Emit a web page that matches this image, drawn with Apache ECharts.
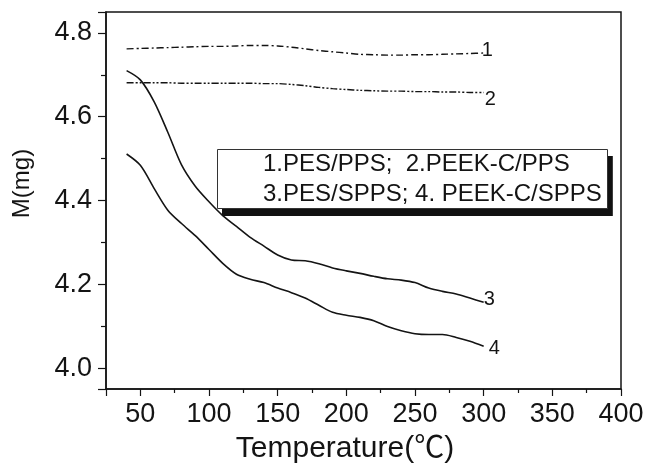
<!DOCTYPE html>
<html>
<head>
<meta charset="utf-8">
<script src="https://cdn.jsdelivr.net/npm/echarts@6/dist/echarts.min.js"></script>
<style>
  html, body { margin: 0; padding: 0; background: #fff; }
  #chart { width: 648px; height: 469px; }
</style>
</head>
<body>
<div id="chart"></div>
<script>
// temperature (°C) and sample mass M (mg)
var temps = [40, 50, 60, 70, 80, 90, 100, 110, 120, 130, 140, 150, 160, 170,
             180, 190, 200, 210, 220, 230, 240, 250, 260, 270, 280, 290, 300];
var massPesPps = [4.762, 4.763, 4.764, 4.765, 4.766, 4.767, 4.768, 4.768, 4.769, 4.770, 4.770, 4.769, 4.766, 4.762,
                  4.758, 4.755, 4.752, 4.749, 4.748, 4.747, 4.747, 4.748, 4.748, 4.749, 4.750, 4.751, 4.752];
var massPeekPps = [4.681, 4.681, 4.681, 4.681, 4.680, 4.680, 4.680, 4.680, 4.680, 4.680, 4.679, 4.679, 4.677, 4.674,
                   4.670, 4.667, 4.665, 4.663, 4.662, 4.661, 4.661, 4.660, 4.660, 4.659, 4.659, 4.658, 4.658];
var massPesSpps = [4.710, 4.688, 4.636, 4.563, 4.485, 4.434, 4.397, 4.364, 4.338, 4.312, 4.291, 4.270, 4.258, 4.256,
                   4.249, 4.239, 4.232, 4.226, 4.219, 4.213, 4.210, 4.204, 4.191, 4.183, 4.177, 4.167, 4.157];
var massPeekSpps = [4.511, 4.484, 4.429, 4.377, 4.345, 4.316, 4.283, 4.250, 4.224, 4.212, 4.204, 4.191, 4.180, 4.167,
                    4.150, 4.133, 4.126, 4.121, 4.113, 4.099, 4.089, 4.082, 4.080, 4.080, 4.073, 4.064, 4.052];
var curveNames = ['1', '2', '3', '4'];
var legendLines = ['1.PES/PPS;  2.PEEK-C/PPS', '3.PES/SPPS; 4. PEEK-C/SPPS'];

var font = "'Liberation Sans', Arial, 'Noto Sans CJK SC', sans-serif";
var ink = '#141414';

function pairs(ys) {
    return temps.map(function (t, i) { return [t, ys[i]]; });
}

function curve(name, ys, dash, labelOffset) {
    return {
        name: name,
        type: 'line',
        data: pairs(ys),
        symbol: 'none',
        smooth: 0.3,
        lineStyle: { color: ink, width: dash === 'solid' ? 1.6 : 1.4, type: dash },
        endLabel: {
            show: true,
            formatter: name,
            distance: 0,
            offset: labelOffset,
            fontFamily: font,
            fontSize: 20,
            color: ink
        }
    };
}

// text box used as the key; the first copy is the solid drop shadow
function keyBox(left, top, fill, textColor, border, z) {
    return {
        text: legendLines.join('\n'),
        left: left,
        top: top,
        z: z,
        padding: [0, 6, 0, 46],
        backgroundColor: fill,
        borderColor: border,
        borderWidth: border ? 1 : 0,
        textStyle: {
            fontFamily: font,
            fontSize: 24,
            fontWeight: 'normal',
            color: textColor,
            lineHeight: 30
        }
    };
}

var chart = echarts.init(document.getElementById('chart'), null, { renderer: 'canvas' });

var option = {
    animation: false,
    backgroundColor: '#fff',
    title: [
        keyBox(222, 156, '#111', 'rgba(0,0,0,0)', null, 5),
        keyBox(217, 149, '#fff', ink, '#333', 6)
    ],
    grid: {
        left: 106,
        top: 12,
        right: 27,
        bottom: 80,
        show: true,
        borderColor: ink,
        borderWidth: 1.5
    },
    xAxis: {
        type: 'value',
        min: 25,
        max: 400,
        splitNumber: 8,
        name: 'Temperature(℃)',
        nameLocation: 'middle',
        nameGap: 45,
        nameTextStyle: { fontFamily: font, fontSize: 30, color: ink, padding: [0, 37, 0, 0] },
        axisLine: { lineStyle: { color: ink, width: 1.5 } },
        axisTick: { length: 7, lineStyle: { color: ink, width: 1.2 } },
        minorTick: { show: true, splitNumber: 2, length: 4, lineStyle: { color: ink, width: 1.2 } },
        axisLabel: { showMinLabel: false, margin: 12, fontFamily: font, fontSize: 27, color: ink },
        splitLine: { show: false }
    },
    yAxis: {
        type: 'value',
        min: 3.95,
        max: 4.85,
        splitNumber: 5,
        name: 'M(mg)',
        nameLocation: 'middle',
        nameGap: 72,
        nameTextStyle: { fontFamily: font, fontSize: 24, color: ink, padding: [0, 0, 0, 34] },
        axisLine: { show: true, lineStyle: { color: ink, width: 1.5 } },
        axisTick: { show: true, length: 8, lineStyle: { color: ink, width: 1.2 } },
        minorTick: { show: true, splitNumber: 2, length: 5, lineStyle: { color: ink, width: 1.2 } },
        axisLabel: {
            showMinLabel: false,
            showMaxLabel: false,
            margin: 14,
            fontFamily: font,
            fontSize: 27,
            color: ink,
            formatter: function (v) { return v.toFixed(1); }
        },
        splitLine: { show: false }
    },
    series: [
        curve(curveNames[0], massPesPps, [7, 3, 2, 3], [-2, -3]),
        curve(curveNames[1], massPeekPps, [7, 2, 2, 2, 2, 2], [1, 7]),
        curve(curveNames[2], massPesSpps, 'solid', [0, -3]),
        curve(curveNames[3], massPeekSpps, 'solid', [5, 2])
    ]
};

chart.setOption(option);
</script>
</body>
</html>
